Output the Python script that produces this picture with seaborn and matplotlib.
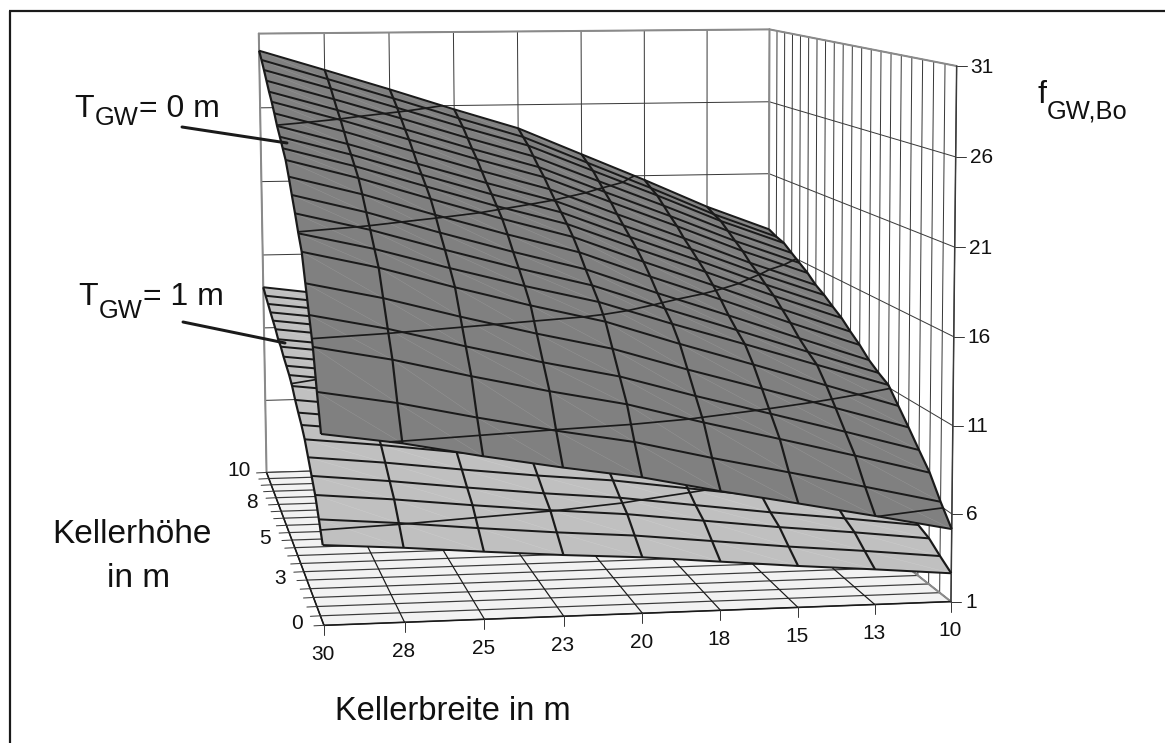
import numpy as np
import seaborn as sns
import matplotlib
matplotlib.use('Agg')
import matplotlib.pyplot as plt
from matplotlib.collections import PolyCollection, LineCollection

# ---------------- data -------------------------------------------------
BREITE = [30, 27.5, 25, 22.5, 20, 17.5, 15, 12.5, 10]
HOEHE = [0, .5, 1, 1.5, 2, 2.5, 3, 3.5, 4, 4.5, 5, 5.5, 6, 6.5, 7, 7.5, 8, 8.5, 9, 9.5, 10]
BREITE_LABELS = ['30', '28', '25', '23', '20', '18', '15', '13', '10']
HOEHE_TICKS = [0, 2.5, 5, 7.5, 10]
HOEHE_LABELS = ['0', '3', '5', '8', '10']
F_TICKS = [1, 6, 11, 16, 21, 26, 31]
CONTOURS = [6, 11, 16, 21, 26]

F_T0 = [
    [11.54, 10.90, 10.06, 9.30, 8.62, 7.71, 6.88, 6.03, 5.14],
    [13.47, 12.74, 11.81, 10.95, 10.19, 9.16, 8.21, 7.25, 6.25],
    [15.62, 14.80, 13.76, 12.80, 11.94, 10.78, 9.71, 8.62, 7.50],
    [17.09, 16.21, 15.11, 14.09, 13.17, 11.93, 10.78, 9.61, 8.41],
    [18.59, 17.65, 16.49, 15.41, 14.43, 13.11, 11.88, 10.62, 9.35],
    [20.12, 19.12, 17.89, 16.74, 15.69, 14.28, 12.95, 11.60, 10.25],
    [20.93, 19.94, 18.73, 17.59, 16.55, 15.15, 13.83, 12.48, 11.15],
    [21.86, 20.81, 19.55, 18.35, 17.25, 15.77, 14.36, 12.93, 11.53],
    [22.72, 21.62, 20.32, 19.08, 17.94, 16.40, 14.94, 13.44, 11.98],
    [23.60, 22.47, 21.15, 19.88, 18.71, 17.13, 15.62, 14.07, 12.59],
    [24.41, 23.24, 21.90, 20.60, 19.40, 17.78, 16.22, 14.62, 13.10],
    [24.93, 23.77, 22.45, 21.15, 19.96, 18.34, 16.78, 15.17, 13.66],
    [25.46, 24.29, 22.97, 21.67, 20.46, 18.82, 17.24, 15.60, 14.08],
    [25.96, 24.77, 23.46, 22.17, 20.95, 19.31, 17.71, 16.06, 14.54],
    [26.59, 25.38, 24.05, 22.73, 21.49, 19.80, 18.16, 16.46, 14.91],
    [27.17, 25.95, 24.63, 23.30, 22.06, 20.36, 18.70, 16.98, 15.43],
    [27.67, 26.43, 25.12, 23.78, 22.52, 20.81, 19.13, 17.39, 15.83],
    [28.24, 26.98, 25.67, 24.32, 23.04, 21.31, 19.60, 17.82, 16.24],
    [28.81, 27.54, 26.21, 24.86, 23.57, 21.81, 20.07, 18.25, 16.66],
    [29.35, 28.03, 26.69, 25.30, 23.97, 22.16, 20.36, 18.48, 16.85],
    [29.85, 28.51, 27.15, 25.74, 24.39, 22.54, 20.70, 18.77, 17.12],
]
F_T1 = [
    [5.44, 5.14, 4.77, 4.43, 4.15, 3.75, 3.35, 3.00, 2.62],
    [6.40, 6.05, 5.62, 5.23, 4.90, 4.44, 3.97, 3.57, 3.12],
    [7.32, 6.93, 6.46, 6.03, 5.66, 5.14, 4.62, 4.17, 3.67],
    [7.97, 7.54, 7.03, 6.56, 6.16, 5.59, 5.03, 4.53, 3.99],
    [8.62, 8.18, 7.65, 7.16, 6.74, 6.14, 5.55, 5.02, 4.46],
    [9.26, 8.80, 8.25, 7.74, 7.30, 6.67, 6.06, 5.49, 4.91],
    [9.71, 9.25, 8.70, 8.20, 7.75, 7.13, 6.51, 5.94, 5.36],
    [10.06, 9.58, 9.02, 8.50, 8.04, 7.39, 6.75, 6.15, 5.55],
    [10.45, 9.95, 9.38, 8.84, 8.36, 7.69, 7.03, 6.40, 5.78],
    [10.93, 10.42, 9.83, 9.27, 8.77, 8.07, 7.38, 6.73, 6.08],
    [11.25, 10.73, 10.15, 9.58, 9.07, 8.36, 7.66, 6.99, 6.33],
    [11.48, 10.97, 10.39, 9.83, 9.33, 8.63, 7.93, 7.26, 6.61],
    [11.71, 11.19, 10.62, 10.06, 9.56, 8.85, 8.15, 7.47, 6.82],
    [12.01, 11.49, 10.91, 10.35, 9.83, 9.12, 8.41, 7.71, 7.06],
    [12.16, 11.64, 11.08, 10.52, 10.01, 9.30, 8.59, 7.89, 7.24],
    [12.49, 11.96, 11.40, 10.83, 10.31, 9.59, 8.87, 8.16, 7.50],
    [12.74, 12.20, 11.64, 11.07, 10.54, 9.82, 9.09, 8.36, 7.70],
    [12.98, 12.45, 11.89, 11.32, 10.78, 10.05, 9.32, 8.57, 7.90],
    [13.24, 12.70, 12.14, 11.57, 11.03, 10.28, 9.55, 8.79, 8.12],
    [13.50, 12.94, 12.37, 11.79, 11.22, 10.46, 9.69, 8.90, 8.21],
    [13.79, 13.21, 12.63, 12.03, 11.45, 10.66, 9.87, 9.05, 8.34],
]

# ---------------- camera of the 3-D box (breite, hoehe, f -> screen) ----
BOX_CORNERS = [((30, 0, 1), (324, 627)), ((10, 0, 1), (949.3, 600)),
               ((30, 10, 1), (266, 470.7)), ((10, 10, 1), (770, 459)),
               ((30, 10, 31), (259.3, 34)), ((10, 10, 31), (767.7, 29)),
               ((10, 0, 31), (958.3, 66))]


def solve_camera(corners):
    A, b = [], []
    for (bx, hx, fx), (sx, sy) in corners:
        X, Y, Z = (30 - bx) / 20, hx / 10, (fx - 1) / 30
        A.append([X, Y, Z, 1, 0, 0, 0, 0, -sx * X, -sx * Y, -sx * Z]); b.append(sx)
        A.append([0, 0, 0, 0, X, Y, Z, 1, -sy * X, -sy * Y, -sy * Z]); b.append(sy)
    p = np.linalg.lstsq(np.array(A, float), np.array(b, float), rcond=None)[0]
    return np.append(p, 1).reshape(3, 4)


P = solve_camera(BOX_CORNERS)


def proj(bx, hx, fx):
    bx, hx, fx = np.broadcast_arrays(np.asarray(bx, float), np.asarray(hx, float), np.asarray(fx, float))
    X = np.stack([(30 - bx) / 20, hx / 10, (fx - 1) / 30, np.ones_like(bx)], axis=-1)
    q = X @ P.T
    return np.stack([q[..., 0] / q[..., 2], q[..., 1] / q[..., 2]], axis=-1)


# ---------------- figure ------------------------------------------------
sns.set_theme(style='white')
plt.rcParams['font.family'] = ['Liberation Sans', 'DejaVu Sans']
W, H = 1165, 743
fig = plt.figure(figsize=(W / 100, H / 100), dpi=100)
ax = fig.add_axes([0, 0, 1, 1])
ax.set_xlim(0, W)
ax.set_ylim(H, 0)
ax.axis('off')

PX = 0.72
WALL = '#3a3a3a'
EDGE = '#8a8a8a'
br = np.array(BREITE, float)
he = np.array(HOEHE, float)


def line3(b, h, f, color='k', lw=1.0, z=2, **kw):
    pts = proj(b, h, f)
    ax.plot(pts[..., 0], pts[..., 1], color=color, lw=lw * PX, zorder=z,
            solid_capstyle='round', **kw)


# back wall and side wall
for b in BREITE:
    line3([b, b], [10, 10], [1, 31], WALL, 1.0)
for f in F_TICKS:
    line3([30, 10], [10, 10], [f, f], WALL, 1.0)
    line3([10, 10], [10, 0], [f, f], WALL, 1.0)
for h in HOEHE:
    line3([10, 10], [h, h], [1, 31], WALL, 1.0)
# floor
BB, HH = np.meshgrid(br, he)
floor = proj(BB, HH, np.ones_like(BB))


def quads(grid):
    return [grid[[i, i, i + 1, i + 1], [j, j + 1, j + 1, j]]
            for i in range(grid.shape[0] - 2, -1, -1) for j in range(grid.shape[1] - 1)]


ax.add_collection(PolyCollection(quads(floor), facecolors='#f2f2f2', edgecolors='none', zorder=3))
for h in HOEHE:
    line3([30, 10], [h, h], [1, 1], '#3a3a3a', 1.2, 4)
for b in BREITE:
    line3([b, b], [0, 10], [1, 1], 'k', 1.2, 4)
# box outline
line3([30, 10], [10, 10], [31, 31], EDGE, 2, 5)
line3([10, 10], [10, 0], [31, 31], EDGE, 2, 5)
line3([30, 30], [10, 10], [1, 31], EDGE, 2, 5)
line3([10, 10], [10, 10], [1, 31], EDGE, 2, 5)
line3([10, 10], [10, 0], [1, 1], EDGE, 2, 5)
line3([30, 30], [0, 10], [1, 1], 'k', 1.6, 5)
line3([30, 10], [0, 0], [1, 1], 'k', 1.6, 5)
line3([10, 10], [0, 0], [1, 31], WALL, 1.5, 5)

# ticks
for b in BREITE:
    s = proj(b, 0, 1)
    ax.plot([s[0], s[0]], [s[1], s[1] + 10], color=WALL, lw=1.0 * PX, zorder=5)
for h in HOEHE:
    s = proj(30, h, 1)
    ax.plot([s[0] - 10, s[0]], [s[1] + 0.5, s[1]], color=WALL, lw=1.0 * PX, zorder=5)
for f in F_TICKS:
    s = proj(10, 0, f)
    ax.plot([s[0], s[0] + 10], [s[1], s[1]], color=WALL, lw=1.0 * PX, zorder=5)

# tick labels
for b, lab in zip(BREITE, BREITE_LABELS):
    s = proj(b, 0, 1)
    ax.text(s[0] - 1, s[1] + 29, lab, ha='center', va='center', fontsize=15, color='#111', zorder=9)
for h, lab in zip(HOEHE_TICKS, HOEHE_LABELS):
    s = proj(30, h, 1)
    ax.text(s[0] - 27, s[1] - 2, lab, ha='center', va='center', fontsize=15, color='#111', zorder=9)
for f in F_TICKS:
    s = proj(10, 0, f)
    ax.text(s[0] + 14, s[1] + 1, str(f), ha='left', va='center', fontsize=15, color='#111', zorder=9)


# surfaces
def surface(values, face, diag, z):
    Z = np.array(values, float)
    grid = proj(BB, HH, Z)
    ax.add_collection(PolyCollection(quads(grid), facecolors=face, edgecolors=face, linewidths=0.3, zorder=z))
    segs = [[grid[i + 1, j], grid[i, j + 1]] for i in range(20) for j in range(8)]
    ax.add_collection(LineCollection(segs, colors=diag, linewidths=0.3, alpha=0.35, zorder=z + 0.1))
    rows = [grid[i] for i in range(21)]
    cols = [grid[:, j] for j in range(9)]
    ax.add_collection(LineCollection(rows, colors='k', linewidths=2.0 * PX, zorder=z + 0.2))
    ax.add_collection(LineCollection(cols, colors='k', linewidths=2.2 * PX, zorder=z + 0.2))
    # contour bands: level lines of the surface, as the chart type draws them
    tmp = plt.figure()
    cs = tmp.add_subplot().contour(BB, HH, Z, levels=CONTOURS)
    for seglist, lev in zip(cs.allsegs, CONTOURS):
        for seg in seglist:
            pts = proj(seg[:, 0], seg[:, 1], np.full(len(seg), lev))
            ax.plot(pts[:, 0], pts[:, 1], color='k', lw=1.7 * PX, zorder=z + 0.3)
    plt.close(tmp)


surface(F_T1, '#c0c0c0', '#e8e8e8', 6)
surface(F_T0, '#808080', '#c4c4c4', 7)

# annotations
TXT = dict(color='#111', zorder=10, va='baseline')
ax.text(74.5, 117, 'T', fontsize=23, **TXT)
ax.text(94.5, 125, 'GW', fontsize=18.4, **TXT)
ax.text(139, 117, '= 0 m', fontsize=23, **TXT)
ax.text(78.5, 305, 'T', fontsize=23, **TXT)
ax.text(98.5, 318, 'GW', fontsize=18.4, **TXT)
ax.text(143, 305, '= 1 m', fontsize=23, **TXT)
ax.plot([182, 287], [127, 143], color='k', lw=3 * PX, zorder=10)
ax.plot([183, 285], [322, 343], color='k', lw=3 * PX, zorder=10)
ax.text(132, 543, 'Kellerhöhe', fontsize=24, ha='center', **TXT)
ax.text(139, 587, 'in m', fontsize=24, ha='center', **TXT)
ax.text(453, 720, 'Kellerbreite in m', fontsize=23.5, ha='center', **TXT)
ax.text(1038, 103, 'f', fontsize=23, **TXT)
ax.text(1047, 118, 'GW,Bo', fontsize=18.4, **TXT)

# frame: only the top and left rules fall inside the picture
ax.plot([10, 10], [H, 11], color='k', lw=2.2 * PX, zorder=11, solid_capstyle='butt')
ax.plot([9, W], [11, 11], color='k', lw=2.2 * PX, zorder=11, solid_capstyle='butt')

fig.savefig('out.png', dpi=100)
